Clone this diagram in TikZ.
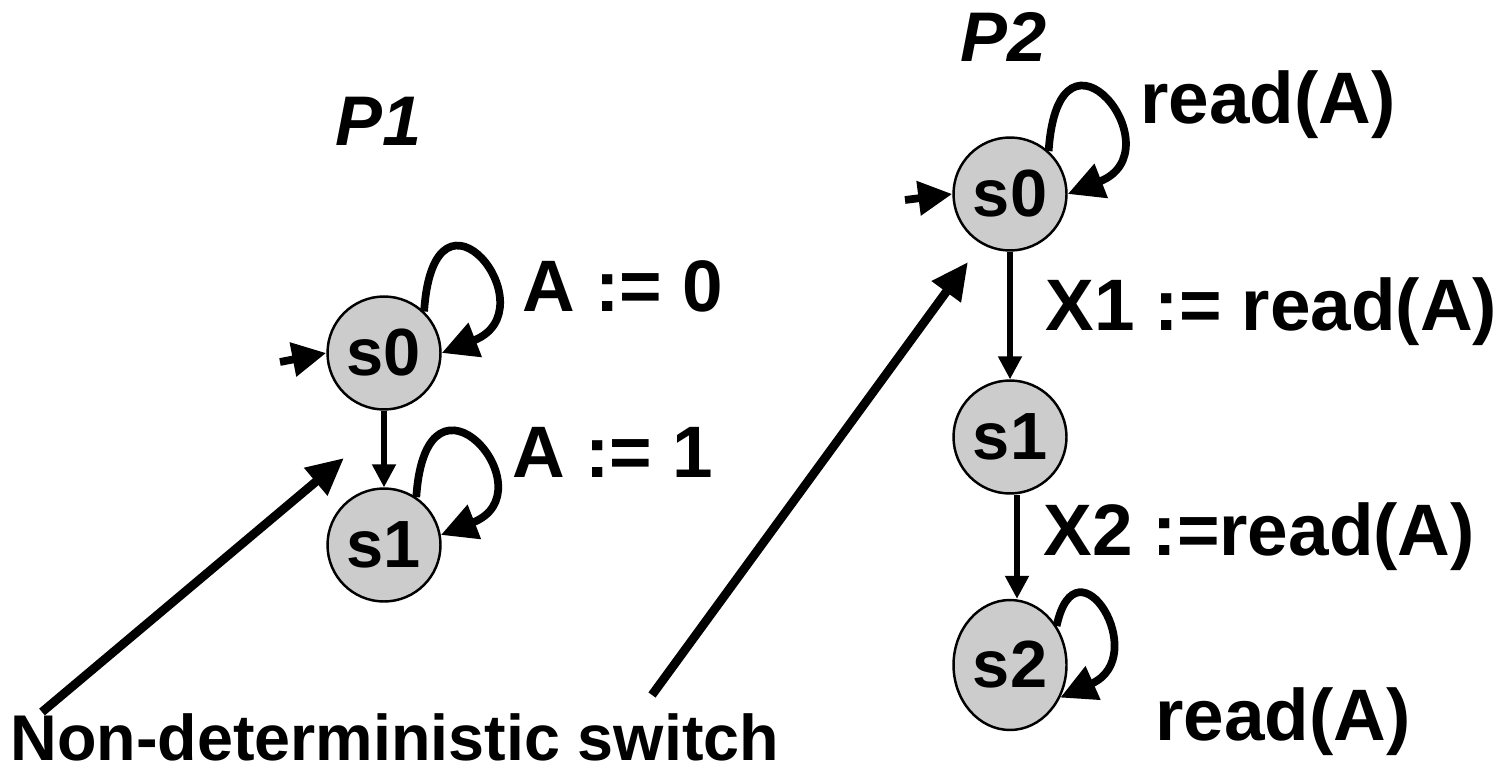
\documentclass[tikz,border=0pt]{standalone}
\usepackage{fontspec}
\setmainfont{Liberation Sans}
\usetikzlibrary{arrows.meta,shapes.geometric}
\definecolor{gris}{RGB}{204,204,204}

\tikzset{estado/.style={circle, draw, fill=gris, line width=1.4pt, minimum size=2.26cm, inner sep=0pt, font=\fontsize{38}{44}\selectfont\bfseries},
  etq/.style={anchor=base west, inner sep=0pt, font=\fontsize{41.5}{48}\selectfont\bfseries},
  proc/.style={anchor=base west, inner sep=0pt, font=\fontsize{40}{46}\selectfont\bfseries\itshape},
  lazo/.style={line width=4.4pt, -{Triangle[length=0.72cm, width=0.7cm]}},
  trans/.style={line width=2.9pt, -{Triangle[length=0.46cm, width=0.46cm]}},
  ini/.style={line width=4.4pt, -{Triangle[length=0.68cm, width=0.66cm]}},
  flecha/.style={line width=5pt, -{Triangle[length=0.74cm, width=0.68cm]}}}

\begin{document}
\begin{tikzpicture}[x=0.02cm, y=-0.02cm]
  \useasboundingbox (0,0) rectangle (1506,773);
  % P1
  \node[proc] (p1) at (335,146) {P1};
  \node[estado] (a0) at (384,353) {s0};
  \node[estado] (a1) at (384,545) {s1};
  \coordinate (a0i) at (280,362);
  \draw[ini] (a0i) -- (a0.west);
  \draw[trans] (a0) -- (a1);
  \draw[lazo] (a0.46) .. controls +(10,-150) and +(110,-43) .. (a0.east);
  \draw[lazo] (a1.56) .. controls +(10,-150) and +(110,-43) .. (a1.10);
  \node[etq] (l00) at (522,312) {A := 0};
  \node[etq] (l01) at (512,477) {A := 1};
  % P2
  \node[proc] (p2) at (960,62) {P2};
  \node[estado] (b0) at (1010,194) {s0};
  \node[estado] (b1) at (1010,437) {s1};
  \node[estado, ellipse, minimum height=2.6cm] (b2) at (1010,665) {s2};
  \coordinate (b0i) at (905,200);
  \draw[ini] (b0i) -- (b0.west);
  \draw[trans] (b0) -- (b1);
  \draw[trans] ([xshift=0.14cm]b1.south) -- ([xshift=0.14cm]b2.north);
  \draw[lazo] (b0.48) .. controls +(10,-150) and +(110,-43) .. (b0.east);
  \draw[lazo] (b2.40) .. controls +(20,-92) and +(92,-41) .. (b2.-33);
  \node[etq] (l10) at (1140,124) {read(A)};
  \node[etq] (l11) at (1045,330) {X1 := read(A)};
  \node[etq] (l12) at (1043,555) {X2 :=read(A)};
  \node[etq] (l13) at (1155,740) {read(A)};
  % switch
  \node[etq, font=\fontsize{36.8}{44}\selectfont\bfseries] (sw) at (10,760) {Non-deterministic switch};
  \coordinate (n1) at (42,712);  \coordinate (t1) at (344,458);
  \coordinate (n2) at (652,695); \coordinate (t2) at (968,262);
  \draw[flecha] (n1) -- (t1);
  \draw[flecha] (n2) -- (t2);
\end{tikzpicture}
\end{document}
